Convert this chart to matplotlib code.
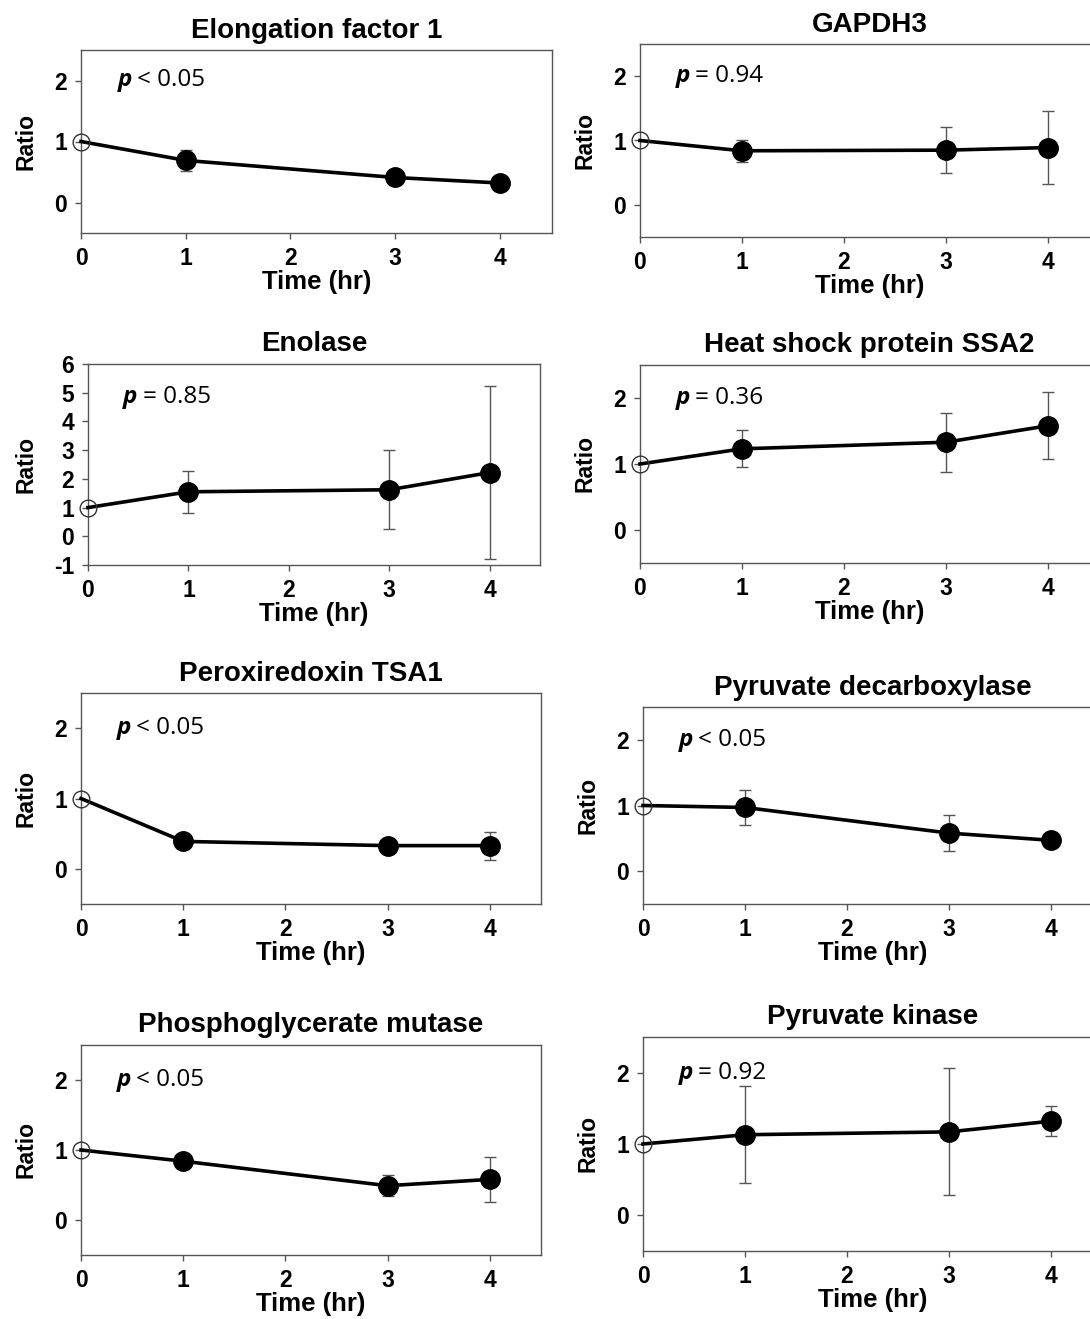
import numpy as np
import matplotlib
matplotlib.use("Agg")
import matplotlib.pyplot as plt

plt.rcParams["axes.unicode_minus"] = False

# time points (hr)
times = [0, 1, 3, 4]

titles = ["Elongation factor 1", "GAPDH3", "Enolase", "Heat shock protein SSA2",
          "Peroxiredoxin TSA1", "Pyruvate decarboxylase",
          "Phosphoglycerate mutase", "Pyruvate kinase"]

p_labels = ["< 0.05", "= 0.94", "= 0.85", "= 0.36",
            "< 0.05", "< 0.05", "< 0.05", "= 0.92"]

# ratio values at each time point
elongation = [1.0, 0.69, 0.41, 0.32]
gapdh3 = [1.0, 0.84, 0.85, 0.89]
enolase = [1.0, 1.55, 1.62, 2.22]
ssa2 = [1.0, 1.23, 1.33, 1.58]
tsa1 = [1.0, 0.39, 0.33, 0.33]
pyr_decarb = [1.0, 0.97, 0.58, 0.47]
pgm = [1.0, 0.84, 0.49, 0.58]
pyr_kinase = [1.0, 1.13, 1.17, 1.32]

# error bar half widths (0 = no bar at t=0)
elongation_err = [0, 0.17, 0.05, 0.04]
gapdh3_err = [0, 0.17, 0.36, 0.57]
enolase_err = [0, 0.73, 1.38, 3.02]
ssa2_err = [0, 0.28, 0.45, 0.51]
tsa1_err = [0, 0.05, 0.08, 0.20]
pyr_decarb_err = [0, 0.26, 0.27, 0.10]
pgm_err = [0, 0.03, 0.15, 0.32]
pyr_kinase_err = [0, 0.68, 0.89, 0.21]

series = [elongation, gapdh3, enolase, ssa2, tsa1, pyr_decarb, pgm, pyr_kinase]
errors = [elongation_err, gapdh3_err, enolase_err, ssa2_err,
          tsa1_err, pyr_decarb_err, pgm_err, pyr_kinase_err]

W, H = 1090, 1319
# axes boxes in pixels: left, top, right, bottom
boxes = [(81, 50, 552, 233), (640, 44, 1099, 237),
         (88, 364, 540, 565), (640, 365, 1099, 563),
         (81, 693, 541, 904), (643, 707, 1102, 904),
         (81, 1045, 541, 1255), (643, 1037, 1102, 1251)]

fig = plt.figure(figsize=(W / 100, H / 100), dpi=100)
gray = "#555555"
font = "Liberation Sans"

for i in range(8):
    l, t, r, b = boxes[i]
    ax = fig.add_axes([l / W, 1 - b / H, (r - l) / W, (b - t) / H])

    x = np.array(times)
    y = np.array(series[i])
    e = np.array(errors[i])

    # error bars (gray, thin)
    ax.errorbar(x[1:], y[1:], yerr=e[1:], fmt="none", ecolor=gray,
                elinewidth=1.0, capsize=4, capthick=1.0, zorder=2)
    # connecting line
    ax.plot(x, y, color="black", lw=2.6, zorder=3, clip_on=False)
    # filled points
    ax.plot(x[1:], y[1:], "o", color="black", ms=14, zorder=4)
    # open control point
    ax.plot(x[:1], y[:1], "o", mfc="none", mec="#333333", mew=1.0, ms=12,
            zorder=5, clip_on=False)

    ax.set_xlim(0, 4.5)
    ax.set_xticks([0, 1, 2, 3, 4])
    if i == 2:
        ax.set_ylim(-1, 6)
        ax.set_yticks(range(-1, 7))
        py = 4.85
    else:
        ax.set_ylim(-0.5, 2.5)
        ax.set_yticks([0, 1, 2])
        py = 2.0

    for s in ax.spines.values():
        s.set_color(gray)
        s.set_linewidth(1.0)
    ax.tick_params(direction="out", length=4, width=1, color=gray, pad=6)
    for lab in ax.get_xticklabels() + ax.get_yticklabels():
        lab.set_fontfamily(font)
        lab.set_fontweight("bold")
        lab.set_fontsize(16.5)

    ax.set_title(titles[i], fontfamily=font, fontweight="bold",
                 fontsize=20, pad=9)
    ax.set_xlabel("Time (hr)", fontfamily=font, fontweight="bold",
                  fontsize=18.5, labelpad=0)
    ax.set_ylabel("Ratio", fontfamily=font, fontweight="bold",
                  fontsize=16.5, labelpad=12)

    # p value text: bold italic p followed by regular text
    ax.text(0.35, py, "p", fontfamily="Open Sans", fontweight="bold",
            style="italic", fontsize=17.5, va="center", ha="left")
    ax.annotate(p_labels[i], xy=(0.35, py), xytext=(14, 0),
                textcoords="offset points", fontfamily="Open Sans",
                fontsize=17.5, va="center", ha="left")

fig.savefig("out.png", dpi=100)
